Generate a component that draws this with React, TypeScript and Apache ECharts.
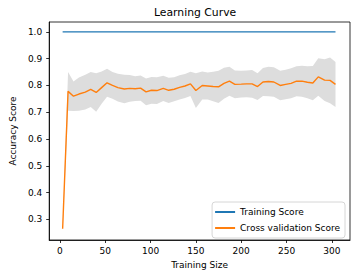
import React, { useEffect, useRef } from "react";
import * as echarts from "echarts";

const title = "Learning Curve";
const xName = "Training Size";
const yName = "Accuracy Score";
const trainLabel = "Training Score";
const cvLabel = "Cross validation Score";

const trainSizes = [3, 9, 15, 21, 28, 34, 40, 46, 52, 58, 64, 71, 77, 83, 89, 95, 101, 107, 114, 120, 126, 132, 138, 144, 150, 157, 163, 169, 175, 181, 187, 193, 200, 206, 212, 218, 224, 230, 236, 243, 249, 255, 261, 267, 273, 279, 285, 292, 298, 304];

const trainScore = [1, 1, 1, 1, 1, 1, 1, 1, 1, 1, 1, 1, 1, 1, 1, 1, 1, 1, 1, 1, 1, 1, 1, 1, 1, 1, 1, 1, 1, 1, 1, 1, 1, 1, 1, 1, 1, 1, 1, 1, 1, 1, 1, 1, 1, 1, 1, 1, 1, 1];

const cvMean = [0.265, 0.778, 0.760, 0.768, 0.775, 0.785, 0.774, 0.792, 0.810, 0.800, 0.792, 0.787, 0.789, 0.788, 0.790, 0.776, 0.782, 0.781, 0.789, 0.782, 0.786, 0.793, 0.798, 0.806, 0.781, 0.800, 0.798, 0.796, 0.795, 0.808, 0.816, 0.804, 0.805, 0.806, 0.806, 0.796, 0.813, 0.815, 0.813, 0.800, 0.804, 0.808, 0.816, 0.816, 0.812, 0.809, 0.832, 0.820, 0.819, 0.804];

const cvStd = [0.005, 0.072, 0.055, 0.062, 0.065, 0.065, 0.072, 0.06, 0.052, 0.05, 0.052, 0.053, 0.05, 0.046, 0.047, 0.05, 0.05, 0.05, 0.047, 0.047, 0.045, 0.045, 0.045, 0.045, 0.065, 0.052, 0.05, 0.055, 0.06, 0.058, 0.054, 0.052, 0.05, 0.05, 0.052, 0.05, 0.052, 0.055, 0.055, 0.055, 0.055, 0.056, 0.056, 0.058, 0.06, 0.064, 0.07, 0.078, 0.085, 0.084];

const xTicks = [0, 50, 100, 150, 200, 250, 300];
const yTicks = [0.3, 0.4, 0.5, 0.6, 0.7, 0.8, 0.9, 1.0];

const FONT = "DejaVu Sans";

export default function App() {
  const ref = useRef<HTMLDivElement>(null);
  useEffect(() => {
    if (!ref.current) return;
    const chart = echarts.init(ref.current, undefined, { renderer: "svg" });
    chart.setOption({
      animation: false,
      backgroundColor: "#fff",
      title: {
        text: title,
        left: 154,
        top: 7,
        padding: 0,
        textStyle: { fontFamily: FONT, fontSize: 10.8, fontWeight: "normal", color: "#000" },
      },
      grid: { left: 41, top: 22, right: 6, bottom: 38, show: true, borderColor: "#000", borderWidth: 0.8 },
      legend: {
        data: [trainLabel, cvLabel],
        orient: "vertical",
        right: 11,
        top: 202,
        padding: [4, 5, 4, 3],
        itemGap: 4,
        itemWidth: 20,
        itemHeight: 2,
        itemTextGap: 7,
        icon: "rect",
        borderColor: "#ccc",
        borderWidth: 0.8,
        borderRadius: 3,
        backgroundColor: "rgba(255,255,255,0.8)",
        textStyle: { fontFamily: FONT, fontSize: 9, color: "#000", lineHeight: 12 },
      },
      xAxis: {
        type: "value",
        min: -11.8,
        max: 320,
        name: xName,
        nameLocation: "middle",
        nameGap: 20,
        nameTextStyle: { fontFamily: FONT, fontSize: 9, color: "#000" },
        axisLine: { show: true, onZero: false, lineStyle: { color: "#000", width: 0.8 } },
        axisTick: { show: true, customValues: xTicks, length: 3, lineStyle: { color: "#000", width: 0.8 } },
        axisLabel: { customValues: xTicks, margin: 6, fontFamily: FONT, fontSize: 9, color: "#000" },
        splitLine: { show: false },
      },
      yAxis: {
        type: "value",
        min: 0.223,
        max: 1.037,
        name: yName,
        nameLocation: "middle",
        nameGap: 29,
        nameTextStyle: { fontFamily: FONT, fontSize: 9, color: "#000" },
        axisLine: { show: true, onZero: false, lineStyle: { color: "#000", width: 0.8 } },
        axisTick: { show: true, customValues: yTicks, length: 3, lineStyle: { color: "#000", width: 0.8 } },
        axisLabel: {
          customValues: yTicks,
          margin: 7,
          fontFamily: FONT,
          fontSize: 9,
          color: "#000",
          formatter: (v: number) => v.toFixed(1),
        },
        splitLine: { show: false },
      },
      series: [
        {
          name: "band",
          type: "custom",
          silent: true,
          z: 1,
          data: [[trainSizes[0], cvMean[0]]],
          encode: { x: 0, y: 1 },
          renderItem: (_params: any, api: any) => {
            const upper = trainSizes.map((x, i) => api.coord([x, cvMean[i] + cvStd[i]]));
            const lower = trainSizes.map((x, i) => api.coord([x, cvMean[i] - cvStd[i]])).reverse();
            return {
              type: "polygon",
              shape: { points: upper.concat(lower) },
              style: { fill: "#dddddd", stroke: "none" },
            };
          },
        },
        {
          name: trainLabel,
          type: "line",
          data: trainSizes.map((x, i) => [x, trainScore[i]]),
          symbol: "none",
          itemStyle: { color: "#1f77b4" },
          lineStyle: { color: "#1f77b4", width: 1.4 },
          z: 3,
        },
        {
          name: cvLabel,
          type: "line",
          data: trainSizes.map((x, i) => [x, cvMean[i]]),
          symbol: "none",
          itemStyle: { color: "#ff7f0e" },
          lineStyle: { color: "#ff7f0e", width: 1.4 },
          z: 4,
        },
      ],
    });
    return () => chart.dispose();
  }, []);
  return <div ref={ref} style={{ position: "fixed", left: 0, top: 0, width: 356, height: 278 }} />;
}
